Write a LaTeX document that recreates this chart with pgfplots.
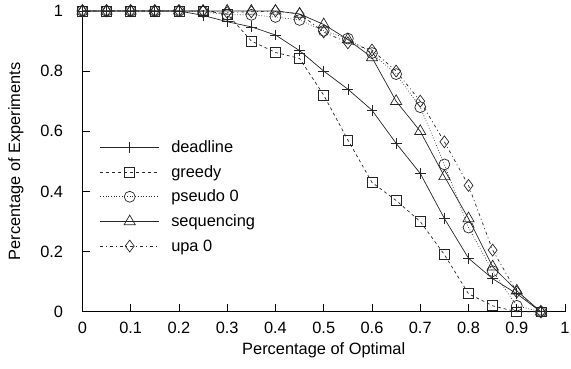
\documentclass[border=0pt]{standalone}
\usepackage{fontspec}
\setmainfont{Liberation Sans}
\usepackage{pgfplots}
\pgfplotsset{compat=1.18}

\pgfplotstableread{
x     deadline greedy pseudo sequencing upa
0.00  1.000    1.000  1.000  1.000      1.000
0.05  1.000    1.000  1.000  1.000      1.000
0.10  1.000    1.000  1.000  1.000      1.000
0.15  1.000    1.000  1.000  1.000      1.000
0.20  1.000    1.000  1.000  1.000      1.000
0.25  0.985    1.000  0.997  1.000      1.000
0.30  0.964    0.990  0.987  1.000      0.995
0.35  0.947    0.900  0.987  1.000      0.997
0.40  0.920    0.862  0.980  1.000      1.000
0.45  0.868    0.842  0.970  0.990      0.990
0.50  0.800    0.720  0.934  0.955      0.930
0.55  0.740    0.571  0.908  0.905      0.894
0.60  0.670    0.430  0.860  0.845      0.870
0.65  0.560    0.370  0.790  0.700      0.800
0.70  0.460    0.300  0.680  0.600      0.700
0.75  0.310    0.190  0.490  0.450      0.565
0.80  0.178    0.060  0.280  0.310      0.420
0.85  0.110    0.020  0.135  0.150      0.205
0.90  0.060    0.000  0.020  0.070      0.066
0.95  0.000    0.000  0.000  0.000      0.000
}\results

\begin{document}
\begin{tikzpicture}
\begin{axis}[
  scale only axis,
  width=486bp, height=303bp,
  xmin=0, xmax=1, ymin=0, ymax=1,
  axis lines=left,
  axis line style={-, line width=0.8bp},
  xtick={0,0.1,...,1.0},
  ytick={0,0.2,...,1.0},
  tick align=inside,
  major tick length=8bp,
  tick style={line width=0.8bp, black},
  /pgf/number format/assume math mode=true,
  every tick label/.append style={font=\fontsize{16.5bp}{19bp}\selectfont},
  yticklabel style={xshift=-16bp},
  xticklabel style={yshift=-7bp},
  label style={font=\fontsize{16.5bp}{19bp}\selectfont},
  xlabel={Percentage of Optimal},
  ylabel={Percentage of Experiments},
  xlabel style={at={(axis description cs:0.5,0)}, anchor=center, yshift=-39bp},
  ylabel style={at={(axis description cs:0,0.5)}, anchor=center, xshift=0bp, yshift=67bp},
  clip=false,
  every axis plot/.append style={line width=0.7bp, black!85},
  mark size=5.5bp,
  legend style={
    at={(0.03,0.583)}, anchor=north west,
    draw=none, fill=none,
    font=\fontsize{16.5bp}{19bp}\selectfont,
    row sep=7.5bp,
    column sep=10bp,
    legend cell align=left,
  },
  legend image code/.code={%
    \draw[mark repeat=2, mark phase=2, #1]
      plot coordinates {(0bp,0bp) (29.5bp,0bp) (59bp,0bp)};
  },
]
\addplot[solid, mark=+, mark options={solid, line width=0.7bp}]
  table[x=x, y=deadline] {\results};
\addlegendentry{deadline}
\addplot[dashed, mark=square, mark size=5bp, mark options={solid}]
  table[x=x, y=greedy] {\results};
\addlegendentry{greedy}
\addplot[dotted, mark=o, mark options={solid}]
  table[x=x, y=pseudo] {\results};
\addlegendentry{pseudo 0}
\addplot[solid, mark=triangle, mark size=6.5bp, mark options={solid}]
  table[x=x, y=sequencing] {\results};
\addlegendentry{sequencing}
\addplot[dash pattern=on 3bp off 3bp on 1bp off 3bp, mark=diamond, mark size=6bp, mark options={solid}]
  table[x=x, y=upa] {\results};
\addlegendentry{upa 0}
\end{axis}
% page frame: room for the labels at left and below, the top marks above
\pgfresetboundingbox
\path[use as bounding box]
  ([xshift=-83bp, yshift=-57bp]current axis.south west)
  rectangle ([xshift=6bp, yshift=11bp]current axis.north east);
\end{tikzpicture}
\end{document}
